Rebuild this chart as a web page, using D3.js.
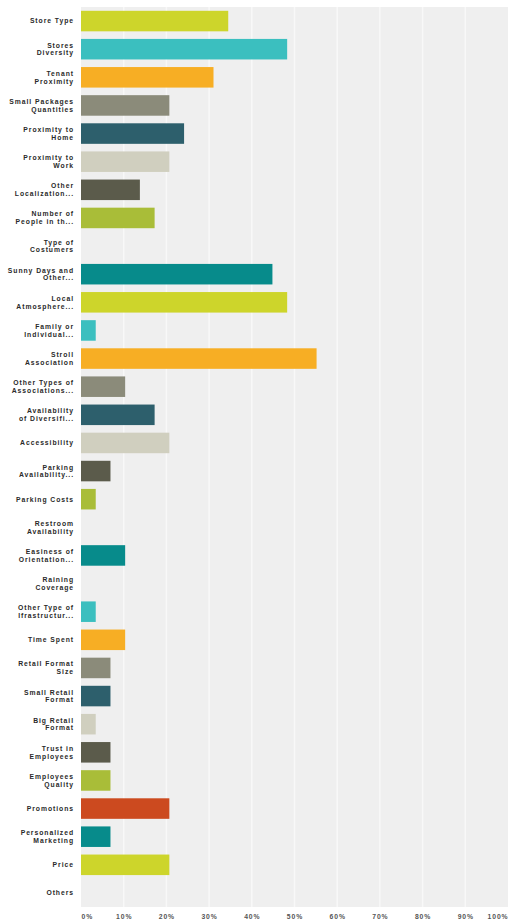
<!DOCTYPE html>
<html>
<head>
<meta charset="utf-8">
<script src="https://cdn.jsdelivr.net/npm/d3@7"></script>
<style>
  body { margin: 0; background: #fff; }
  svg text { font-family: "Liberation Sans", Arial, sans-serif; }
</style>
</head>
<body>
<div id="chart"></div>
<script>
// answer options, label lines as shown (truncated like the source)
let categories = [
	["Store Type"], ["Stores", "Diversity"], ["Tenant", "Proximity"], ["Small Packages", "Quantities"],
	["Proximity to", "Home"], ["Proximity to", "Work"], ["Other", "Localization..."], ["Number of", "People in th..."],
	["Type of", "Costumers"], ["Sunny Days and", "Other..."], ["Local", "Atmosphere..."], ["Family or", "Individual..."],
	["Stroll", "Association"], ["Other Types of", "Associations..."], ["Availability", "of Diversifi..."], ["Accessibility"],
	["Parking", "Availability..."], ["Parking Costs"], ["Restroom", "Availability"], ["Easiness of", "Orientation..."],
	["Raining", "Coverage"], ["Other Type of", "Ifrastructur..."], ["Time Spent"], ["Retail Format", "Size"],
	["Small Retail", "Format"], ["Big Retail", "Format"], ["Trust in", "Employees"], ["Employees", "Quality"],
	["Promotions"], ["Personalized", "Marketing"], ["Price"], ["Others"]
];

// percent of respondents
let values = [
	34.48, 48.28, 31.03, 20.69, 24.14, 20.69, 13.79, 17.24,
	0, 44.83, 48.28, 3.45, 55.17, 10.34, 17.24, 20.69,
	6.90, 3.45, 0, 10.34, 0, 3.45, 10.34, 6.90,
	6.90, 3.45, 6.90, 6.90, 20.69, 6.90, 20.69, 0
];

let ticks = [0, 10, 20, 30, 40, 50, 60, 70, 80, 90, 100];

let palette = ["#cdd52b", "#3bbfbf", "#f7ae24", "#8b8b7a", "#2d5f6c",
	"#d0cfbf", "#5b5b4b", "#a9bd38", "#cc4a1f", "#078b8b"];

let width = 508, height = 921;
let margin = {top: 7, right: 0, bottom: 14, left: 81};

let svg = d3.select("#chart").append("svg")
	.attr("width", width)
	.attr("height", height);

let x = d3.scaleLinear()
	.domain([0, 100])
	.range([margin.left, width - margin.right]);

let y = d3.scaleBand()
	.domain(d3.range(categories.length))
	.range([margin.top, height - margin.bottom])
	.paddingInner(0.27)
	.paddingOuter(0.135);

let color = d3.scaleOrdinal()
	.domain(d3.range(categories.length))
	.range(palette);

// plot background
svg.append("rect")
	.attr("x", x(0))
	.attr("y", margin.top)
	.attr("width", x(100) - x(0))
	.attr("height", height - margin.bottom - margin.top)
	.attr("fill", "#efefef");

// white gridlines
svg.append("g")
	.selectAll("line")
	.data(ticks.slice(1, -1))
	.enter().append("line")
	.attr("x1", (d) => x(d))
	.attr("x2", (d) => x(d))
	.attr("y1", margin.top)
	.attr("y2", height - margin.bottom)
	.attr("stroke", "#f8f8f8")
	.attr("stroke-width", 1.5);

svg.append("g")
	.selectAll("rect")
	.data(values)
	.enter().append("rect")
	.attr("x", x(0))
	.attr("y", (d, i) => y(i))
	.attr("width", (d) => x(d) - x(0))
	.attr("height", y.bandwidth())
	.attr("fill", (d, i) => color(i));

// category labels
let lab = svg.append("g")
	.selectAll("text")
	.data(categories)
	.enter().append("text")
	.attr("text-anchor", "end")
	.attr("font-size", "6.8px")
	.attr("font-weight", "bold")
	.attr("letter-spacing", "0.95px")
	.attr("fill", "#2a2a2a")
	.attr("transform", (d, i) => "translate(74," + (y(i) + y.bandwidth() / 2) + ")");

lab.selectAll("tspan")
	.data((d) => d.map((s, j) => ({s: s, j: j, n: d.length})))
	.enter().append("tspan")
	.attr("x", 0)
	.attr("y", (o) => (o.j - (o.n - 1) / 2) * 7.8)
	.attr("dy", "0.35em")
	.text((o) => o.s);

// x axis
let axis = svg.append("g")
	.attr("transform", "translate(0," + (height - margin.bottom + 12) + ")")
	.call(d3.axisBottom(x).tickValues(ticks).tickFormat((d) => d + "%").tickSize(0).tickPadding(0));

axis.select(".domain").remove();
axis.selectAll("text")
	.attr("font-size", "6.8px")
	.attr("font-weight", "bold")
	.attr("letter-spacing", "0.9px")
	.attr("fill", "#555")
	.attr("dy", 0)
	.attr("text-anchor", (d) => d === 0 ? "start" : (d === 100 ? "end" : "middle"));
</script>
</body>
</html>
